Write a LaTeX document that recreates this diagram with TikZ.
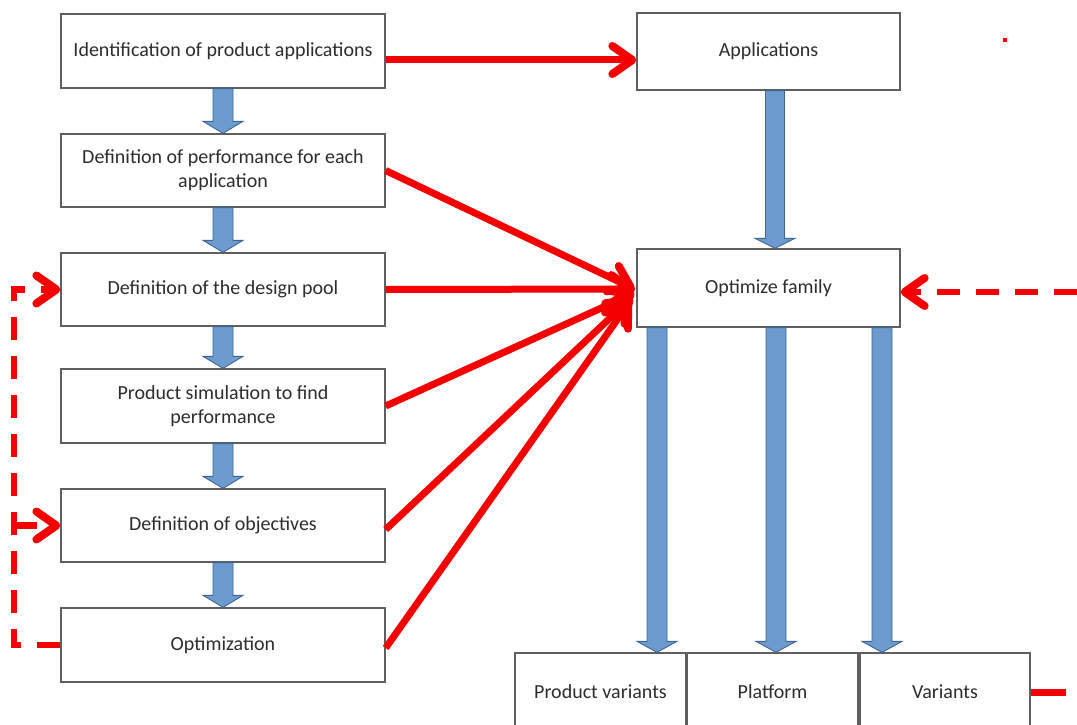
\documentclass[tikz,border=0pt]{standalone}
\usepackage{fontspec}
\setmainfont{Carlito}
\usetikzlibrary{arrows.meta,calc}
\definecolor{blfill}{RGB}{108,156,207}
\definecolor{bledge}{RGB}{62,100,145}
\definecolor{boxedge}{RGB}{95,95,95}
\definecolor{txt}{RGB}{45,45,45}
\definecolor{rd}{RGB}{245,0,0}
% #1 centre x, #2 upper node, #3 lower node, #4 half shaft width, #5 head length
\newcommand\blockarr[5]{%
  \path[blk] let \p1=(#2.south), \p2=(#3.north) in
    (#1-#4,\y1) -- (#1+#4,\y1) -- (#1+#4,\y2+#5) -- (#1+20pt,\y2+#5) --
    (#1,\y2) -- (#1-20pt,\y2+#5) -- (#1-#4,\y2+#5) -- cycle;}
\begin{document}
\begin{tikzpicture}[x=1pt,y=-1pt,
  box/.style={draw=boxedge,line width=1.3pt,fill=white,text=txt,
    font=\fontsize{20}{24}\selectfont,align=center,inner sep=2pt},
  blk/.style={fill=blfill,draw=bledge,line width=0.9pt},
  rline/.style={draw=rd,line width=7pt},
  rtip/.style={-{Straight Barb[length=20pt,width=28pt,line width=8pt,round]}},
  rdash/.style={rline,line width=6.5pt,dash pattern=on 23pt off 16pt}]
\useasboundingbox (0,0) rectangle (1077,725);
% left column
\node[box,minimum width=324pt,minimum height=74pt] (b1) at (223,51) {Identification of product applications};
\node[box,minimum width=324pt,minimum height=73pt] (b2) at (223,170.5) {Definition of performance for each\\application};
\node[box,minimum width=324pt,minimum height=73pt] (b3) at (223,289.5) {Definition of the design pool};
\node[box,minimum width=324pt,minimum height=74pt] (b4) at (223,406) {Product simulation to find\\performance};
\node[box,minimum width=324pt,minimum height=73pt] (b5) at (223,525.5) {Definition of objectives};
\node[box,minimum width=324pt,minimum height=74pt] (b6) at (223,645) {Optimization};
% right column
\node[box,minimum width=263pt,minimum height=77pt] (app) at (768.5,51.5) {Applications};
\node[box,minimum width=263pt,minimum height=78pt] (opt) at (768.5,288) {Optimize family};
% bottom row
\node[box,minimum width=171pt,minimum height=78pt] (pv) at (600.5,692) {Product variants};
\node[box,minimum width=171pt,minimum height=78pt] (pf) at (772.5,692) {Platform};
\node[box,minimum width=170pt,minimum height=78pt] (var) at (945,692) {Variants};
% blue block arrows
\blockarr{223pt}{b1}{b2}{10pt}{12pt}
\blockarr{223pt}{b2}{b3}{10pt}{12pt}
\blockarr{223pt}{b3}{b4}{10pt}{12pt}
\blockarr{223pt}{b4}{b5}{10pt}{12pt}
\blockarr{223pt}{b5}{b6}{10pt}{12pt}
\blockarr{775pt}{app}{opt}{9.5pt}{10pt}
\blockarr{657pt}{opt}{pv}{10pt}{11pt}
\blockarr{776pt}{opt}{pf}{10pt}{11pt}
\blockarr{882pt}{opt}{var}{10pt}{11pt}
% red solid connectors
\draw[rline,rtip] (b1.east |- 0,60) -- (app.west |- 0,60);
\coordinate (t2) at ($(opt.west)+(-2,1)$);
\coordinate (t3) at ($(opt.west)+(-1,1)$);
\coordinate (t4) at ($(opt.west)+(-2,5)$);
\coordinate (t5) at ($(opt.west)+(-4,9)$);
\coordinate (t6) at ($(opt.west)+(-6,13)$);
\draw[rline,rtip] (b2.east) -- (t2);
\draw[rline,rtip] (b3.east) -- (t3);
\draw[rline,rtip] (b4.east) -- (t4);
\draw[rline,rtip] ($(b5.east)+(0,4)$) -- (t5);
\draw[rline,rtip] ($(b6.east)+(0,3)$) -- (t6);
% red dashed feedback
\coordinate (rs) at (1077,292);
\draw[rdash,rtip,dash phase=0pt] (rs) -- (opt.east |- rs);
\coordinate (lx) at (14,0);
\draw[rdash,rtip] (b6.west) -- (lx |- b6.west) |- (b3.west);
\draw[rdash,rtip] (lx |- b5.west) -- (b5.west);
% stray marks
\draw[rline] (var.east) -- ++(35,0);
\fill[rd] (1003,38) rectangle (1007,42);
\end{tikzpicture}
\end{document}
